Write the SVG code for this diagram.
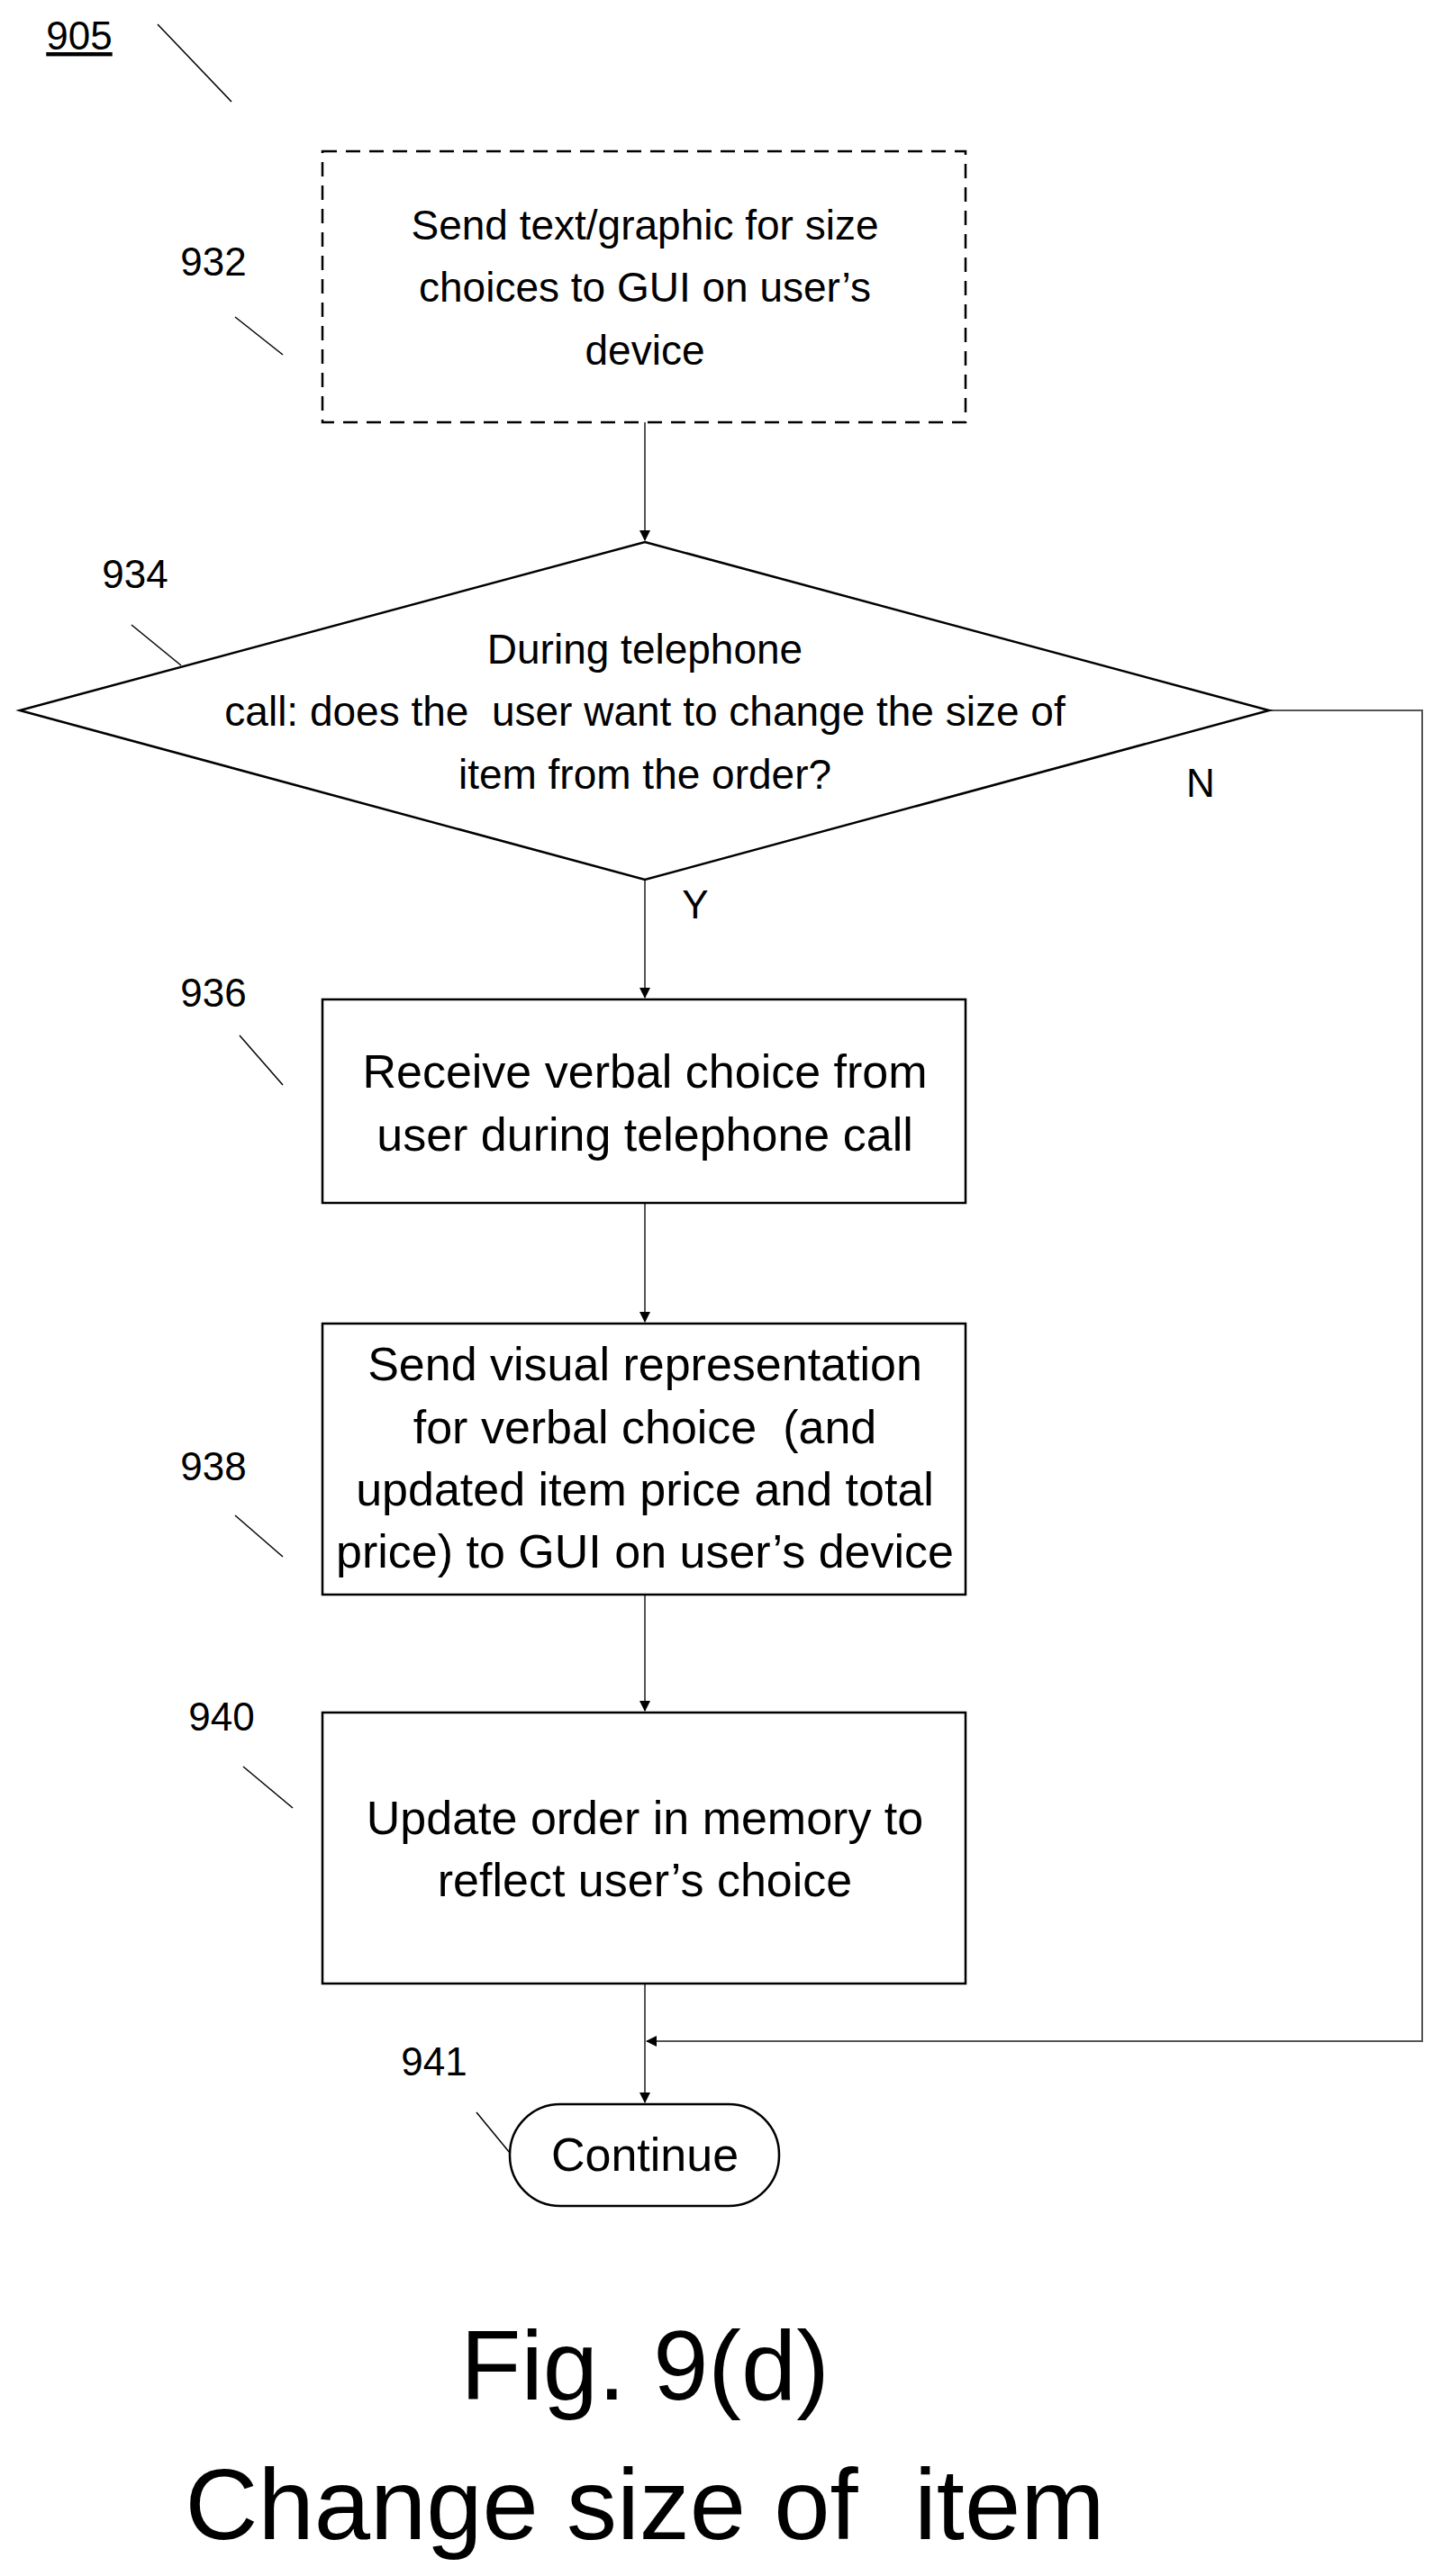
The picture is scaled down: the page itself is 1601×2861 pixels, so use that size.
<svg xmlns="http://www.w3.org/2000/svg" width="1601" height="2861" viewBox="0 0 1601 2861">
<style>
text{font-family:"Liberation Sans",Arial,sans-serif;fill:#000;white-space:pre}
.t{font-size:46px;text-anchor:middle}
.w{font-size:52px;text-anchor:middle}
.n{font-size:44px;text-anchor:middle}
.b{fill:#fff;stroke:#000;stroke-width:2.5}
.l{stroke:#000;stroke-width:1.5;fill:none}
.c{stroke:#555;stroke-width:2;fill:none}
.big{font-size:110px;text-anchor:middle}
</style>
<defs><marker id="a" markerWidth="12" markerHeight="12" refX="11" refY="6" orient="auto" markerUnits="userSpaceOnUse"><path d="M0,0 L12,6 L0,12z" fill="#000"/></marker></defs>
<g id="ref905"><text x="88" y="55" class="n" text-decoration="underline">905</text><line class="l" x1="175" y1="27" x2="257" y2="113"/></g>
<g id="connectors">
<line class="c" x1="716" y1="469" x2="716" y2="600" marker-end="url(#a)"/>
<line class="c" x1="716" y1="977" x2="716" y2="1108" marker-end="url(#a)"/>
<line class="c" x1="716" y1="1336" x2="716" y2="1468" marker-end="url(#a)"/>
<line class="c" x1="716" y1="1771" x2="716" y2="1900" marker-end="url(#a)"/>
<line class="c" x1="716" y1="2203" x2="716" y2="2335" marker-end="url(#a)"/>
<polyline class="c" points="1409,789 1579,789 1579,2267 718,2267" marker-end="url(#a)"/>
<text x="1333" y="885" class="n">N</text>
<text x="772" y="1020" class="n">Y</text>
</g>
<g id="n932"><rect class="b" x="358" y="168" width="714" height="301" stroke-dasharray="16,10"/>
<text class="t" x="716" y="266">Send text/graphic for size</text><text class="t" x="716" y="335">choices to GUI on user’s</text><text class="t" x="716" y="405">device</text>
<text class="n" x="237" y="306">932</text><line class="l" x1="261" y1="352" x2="314" y2="394"/></g>
<g id="n934"><polygon class="b" points="716,602 1409,789 716,977 22,789"/>
<text class="t" x="716" y="737">During telephone</text><text class="t" x="716" y="806" xml:space="preserve">call: does the  user want to change the size of</text><text class="t" x="716" y="876">item from the order?</text>
<text class="n" x="150" y="653">934</text><line class="l" x1="146" y1="694" x2="201" y2="739"/></g>
<g id="n936"><rect class="b" x="358" y="1110" width="714" height="226"/>
<text class="w" x="716" y="1208">Receive verbal choice from</text><text class="w" x="716" y="1278">user during telephone call</text>
<text class="n" x="237" y="1118">936</text><line class="l" x1="266" y1="1150" x2="314" y2="1205"/></g>
<g id="n938"><rect class="b" x="358" y="1470" width="714" height="301"/>
<text class="w" x="716" y="1533">Send visual representation</text><text class="w" x="716" y="1603" xml:space="preserve">for verbal choice  (and</text><text class="w" x="716" y="1672">updated item price and total</text><text class="w" x="716" y="1741">price) to GUI on user’s device</text>
<text class="n" x="237" y="1644">938</text><line class="l" x1="261" y1="1683" x2="314" y2="1729"/></g>
<g id="n940"><rect class="b" x="358" y="1902" width="714" height="301"/>
<text class="w" x="716" y="2037">Update order in memory to</text><text class="w" x="716" y="2106">reflect user’s choice</text>
<text class="n" x="246" y="1922">940</text><line class="l" x1="270" y1="1962" x2="325" y2="2008"/></g>
<g id="n941"><rect class="b" x="566" y="2337" width="299" height="113" rx="56"/>
<text class="w" x="716" y="2411">Continue</text>
<text class="n" x="482" y="2305">941</text><line class="l" x1="529" y1="2346" x2="566" y2="2391"/></g>
<g id="caption"><text class="big" x="716" y="2665">Fig. 9(d)</text><text class="big" x="716" y="2820" xml:space="preserve" style="font-size:112px">Change size of  item</text></g>
</svg>
